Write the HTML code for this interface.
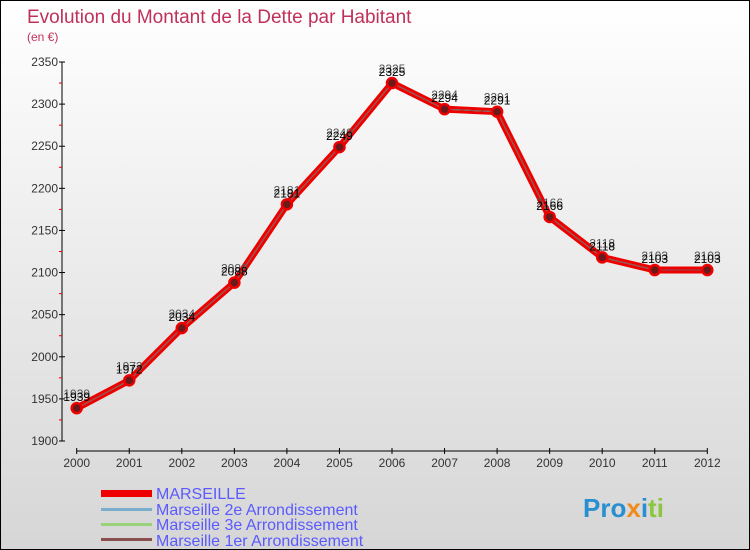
<!DOCTYPE html>
<html><head><meta charset="utf-8"><style>
body{margin:0}
#wrap{position:relative;width:750px;height:550px;box-sizing:border-box;border:1px solid #000;background:linear-gradient(#ffffff,#d6d6d6);font-family:"Liberation Sans",sans-serif;overflow:hidden}
svg text{font-family:"Liberation Sans",sans-serif}
</style></head><body>
<div id="wrap">
<svg id="c" width="750" height="550">
<text x="26" y="22" font-size="19" fill="#c0305a">Evolution du Montant de la Dette par Habitant</text>
<text x="26" y="40" font-size="12" fill="#c0305a">(en €)</text>
<g id="axes"></g><g id="series"></g><g id="labels"></g>
<g>
<rect x="100" y="489" width="51" height="7" fill="#e00"/>
<text x="155" y="498" font-size="16" fill="#5a5aff">MARSEILLE</text>
<rect x="100" y="507" width="51" height="3" fill="#7aaecc"/>
<text x="155" y="514" font-size="16" fill="#5a5aff">Marseille 2e  Arrondissement</text>
<rect x="100" y="522" width="51" height="3" fill="#99d27a"/>
<text x="155" y="529" font-size="16" fill="#5a5aff">Marseille 3e  Arrondissement</text>
<rect x="100" y="537" width="51" height="3" fill="#8a5050"/>
<text x="155" y="545" font-size="16" fill="#5a5aff">Marseille 1er  Arrondissement</text>
</g>
<g font-size="26" font-weight="bold">
<text x="582" y="516"><tspan fill="#2a8fd0">Pro</tspan><tspan fill="#f08a1c">x</tspan><tspan fill="#2a8fd0">i</tspan><tspan fill="#8cc63f">ti</tspan></text>
</g>
</svg></div>
<script>
const years=[2000,2001,2002,2003,2004,2005,2006,2007,2008,2009,2010,2011,2012];
const marseille=[1939,1972,2034,2088,2181,2249,2325,2294,2291,2166,2118,2103,2103];
const yTicks=[1900,1950,2000,2050,2100,2150,2200,2250,2300,2350];
const NS="http://www.w3.org/2000/svg";
const X=i=>75.7+i*52.55;
const Y=v=>440-(v-1900)*(379/450);
function mk(t,a,p){const e=document.createElementNS(NS,t);for(const k in a)e.setAttribute(k,a[k]);(p||document.getElementById('c')).appendChild(e);return e;}
const ax=document.getElementById('axes');
let e=mk('line',{x1:61,y1:61,x2:61,y2:440,stroke:'#000'},ax);

yTicks.forEach((v,i)=>{
 mk('line',{x1:58,x2:64,y1:Y(v),y2:Y(v),stroke:'#000'},ax);
 if(i<yTicks.length-1)mk('line',{x1:58,x2:61,y1:Y(v+25),y2:Y(v+25),stroke:'#e00'},ax);
 const t=mk('text',{x:57,y:Y(v)+4,'font-size':12,fill:'#333','text-anchor':'end'},ax);t.textContent=v;
 
});
e=mk('line',{x1:X(0),y1:450,x2:X(12),y2:450,stroke:'#000'},ax);

years.forEach((y,i)=>{
 mk('line',{x1:X(i),x2:X(i),y1:447,y2:453,stroke:'#000'},ax);
 const t=mk('text',{x:X(i),y:466,'font-size':12,fill:'#333','text-anchor':'middle'},ax);t.textContent=y;
 
});
const sg=document.getElementById('series');
const pts=marseille.map((v,i)=>X(i)+','+Y(v)).join(' ');
e=mk('polyline',{points:pts,fill:'none',stroke:'#e00','stroke-width':7,'stroke-linejoin':'round'},sg);

[['#7aaecc','line-2e'],['#99d27a','line-3e'],['#8a5050','line-1er']].forEach(([c,n])=>{
 const l=mk('polyline',{points:pts,fill:'none',stroke:c,'stroke-width':1},sg);
 
});
const lg=document.getElementById('labels');
marseille.forEach((v,i)=>{
 const p=mk('circle',{cx:X(i),cy:Y(v),r:5,fill:'#6a1a1a',stroke:'#e00','stroke-width':2.5},sg);
 
 const g=mk('text',{x:X(i),y:Y(v)-10,'font-size':12,fill:'#555','text-anchor':'middle'},lg);g.textContent=v;
 
 const t=mk('text',{x:X(i),y:Y(v)-7,'font-size':12,fill:'#000','text-anchor':'middle'},lg);t.textContent=v;
 
});
</script>
</body></html>
